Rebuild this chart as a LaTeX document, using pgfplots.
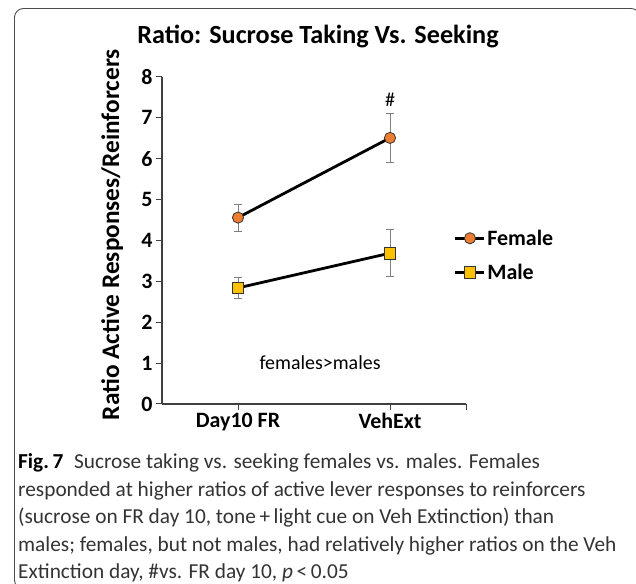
\documentclass[border=0pt]{standalone}
\usepackage{pgfplots}
\pgfplotsset{compat=1.18}
\usepackage{fontspec}
\setmainfont{Carlito}
\definecolor{fem}{HTML}{ED7D31}
\definecolor{mal}{HTML}{FFC000}
\definecolor{errc}{HTML}{808080}
\definecolor{captxt}{HTML}{333333}
\begin{document}
\begin{tikzpicture}[x=1bp,y=1bp]
\useasboundingbox (0,0) rectangle (636,584);
\clip (0,0) rectangle (636,584);
\draw[black!70, line width=0.9bp, rounded corners=9bp] (14.5,-5) rectangle (640,575.5);
\node[font=\bfseries\fontsize{26.3}{30}\selectfont] at (318,547) {Ratio: Sucrose Taking Vs. Seeking};
\begin{axis}[
  at={(162bp,180bp)}, anchor=south west,
  scale only axis, width=304bp, height=327bp,
  xmin=-0.5, xmax=1.5, ymin=0, ymax=8,
  axis x line*=bottom, axis y line*=left,
  axis line style={line width=1.2bp, black!75},
  xtick={0,1}, xticklabels={Day10 FR, VehExt},
  extra x ticks={1.5}, extra x tick labels={},
  extra x tick style={tick style={line width=1bp, black!75}},
  ytick={0,1,2,3,4,5,6,7,8},
  tick align=outside, major tick length=6bp,
  tick style={line width=1bp, black!75},
  tick label style={font=\bfseries\fontsize{22}{25}\selectfont},
  /pgf/number format/assume math mode=true,
  ylabel={Ratio Active Responses/Reinforcers},
  ylabel style={font=\bfseries\fontsize{25.4}{29}\selectfont, at={(axis description cs:-0.164,0.518)}, anchor=center},
  clip=false,
  legend style={draw=none, fill=none, at={(axis description cs:0.96,0.455)}, anchor=west, inner sep=0pt,
    font=\bfseries\fontsize{22}{26}\selectfont, row sep=17bp, nodes={inner xsep=1.5bp, inner ysep=0pt}},
  legend cell align=left,
  legend image code/.code={\draw[mark repeat=2,mark phase=2,#1] plot coordinates {(0bp,0bp)(14.5bp,0bp)(29bp,0bp)};},
  error bars/y dir=both, error bars/y explicit,
  error bars/error bar style={errc, line width=0.8bp},
  error bars/error mark options={rotate=90, mark size=4bp, errc, line width=0.8bp},
]
\addplot[black, line width=2.8bp, mark=*, mark size=5.6bp, mark options={fill=fem, draw=black!80, line width=0.8bp}]
  coordinates {(0,4.56) +- (0,0.33) (1,6.51) +- (0,0.59)};
\addlegendentry{Female}
\addplot[black, line width=2.8bp, mark=square*, mark size=5.8bp, mark options={fill=mal, draw=black!80, line width=0.8bp}]
  coordinates {(0,2.84) +- (0,0.26) (1,3.69) +- (0,0.57)};
\addlegendentry{Male}
\node[font=\fontsize{20}{24}\selectfont] at (axis cs:1,7.45) {\#};
\node[font=\fontsize{20}{24}\selectfont] at (axis cs:0.54,1.01) {females>males};
\end{axis}
\begin{scope}[font=\fontsize{21.4}{26}\selectfont, color=captxt]
\node[anchor=base west, inner sep=0pt] at (18,115) {{\color{black}\bfseries Fig.\,7}\hspace{0.5em}Sucrose taking vs. seeking females vs. males. Females};
\node[anchor=base west, inner sep=0pt] at (18,87.5) {responded at higher ratios of active lever responses to reinforcers};
\node[anchor=base west, inner sep=0pt] at (18,60) {(sucrose on FR day 10, tone\,+\,light cue on Veh Extinction) than};
\node[anchor=base west, inner sep=0pt] at (18,32.5) {males; females, but not males, had relatively higher ratios on the Veh};
\node[anchor=base west, inner sep=0pt] at (18,5) {Extinction day, \#vs. FR day 10, \textit{p}\,<\,0.05};
\end{scope}
\end{tikzpicture}
\end{document}
